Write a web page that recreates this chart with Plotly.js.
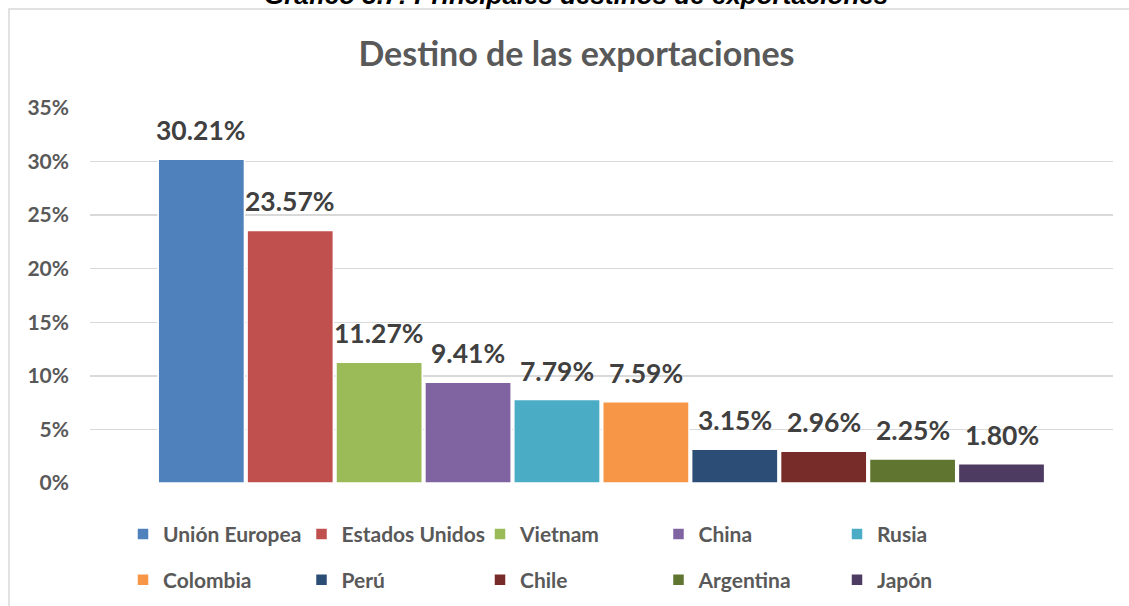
<!DOCTYPE html>
<html>
<head>
<meta charset="utf-8">
<script src="https://cdn.plot.ly/plotly-3.0.1.min.js"></script>
<style>
  html, body { margin: 0; padding: 0; background: #ffffff; overflow: hidden; }
  #chart { width: 1129px; height: 606px; }
</style>
</head>
<body>
<div id="chart"></div>
<script>
// ---- data ----
const countries = ["Unión Europea", "Estados Unidos", "Vietnam", "China", "Rusia",
                   "Colombia", "Perú", "Chile", "Argentina", "Japón"];
const shares = [30.21, 23.57, 11.27, 9.41, 7.79, 7.59, 3.15, 2.96, 2.25, 1.80];
const colors = ["#4F81BD", "#C0504D", "#9BBB59", "#8064A2", "#4BACC6",
                "#F79646", "#2C4D75", "#772C2A", "#5F7530", "#4D3B62"];
const yTicks = [0, 5, 10, 15, 20, 25, 30, 35];
const yTickText = ["0%", "5%", "10%", "15%", "20%", "25%", "30%", "35%"];
const chartTitle = "Destino de las exportaciones";
const pageTitle = "Gráfico 3.7: Principales destinos de exportaciones";

const FONT = "Lato, 'Open Sans', sans-serif";
const traces = countries.map((c, i) => ({
  type: "bar",
  name: c,
  x: [c],
  y: [shares[i]],
  marker: { color: colors[i], line: { color: "#ffffff", width: 1.5 } },
  legend: i < 5 ? "legend" : "legend2",
  hoverinfo: "skip"
}));

const labelAnnotations = countries.map((c, i) => ({
  x: c, y: shares[i], xref: "x", yref: "y",
  text: shares[i].toFixed(2) + "%",
  showarrow: false, yanchor: "bottom", yshift: 11,
  font: { family: FONT, size: 26.5, color: "#404040", weight: 700 }
}));

const legendCommon = {
  orientation: "h",
  xref: "paper", yref: "paper",
  xanchor: "left", yanchor: "middle",
  entrywidth: 133.5, entrywidthmode: "pixels",
  itemwidth: 30,
  font: { family: FONT, size: 21, color: "#595959", weight: 700 },
  bgcolor: "rgba(0,0,0,0)", traceorder: "normal"
};

const layout = {
  width: 1129, height: 606,
  margin: { l: 90, r: 16, t: 108, b: 123, pad: 0, autoexpand: false },
  paper_bgcolor: "#ffffff", plot_bgcolor: "#ffffff",
  barmode: "relative",
  bargap: 0.03,
  showlegend: true,
  title: {
    text: chartTitle,
    xref: "container", yref: "container",
    x: 576.5 / 1129, xanchor: "center",
    y: 1 - 54 / 606, yanchor: "middle",
    font: { family: FONT, size: 34, color: "#595959", weight: 700 }
  },
  xaxis: {
    type: "category",
    categoryorder: "array", categoryarray: countries,
    range: [-1.252, 10.254],
    showticklabels: false, showgrid: false, zeroline: false,
    showline: false, ticks: "", fixedrange: true
  },
  yaxis: {
    range: [0, 35],
    tickvals: yTicks, ticktext: yTickText,
    showgrid: true, gridcolor: "#D9D9D9", gridwidth: 1.5,
    zeroline: false, showline: false, ticks: "",
    ticklabelstandoff: 20,
    tickfont: { family: FONT, size: 21, color: "#595959", weight: 700 },
    fixedrange: true
  },
  legend: Object.assign({}, legendCommon, { x: (123 - 90) / 1023, y: (483 - 534.3) / 375 }),
  legend2: Object.assign({}, legendCommon, { x: (123 - 90) / 1023, y: (483 - 580) / 375 }),
  shapes: [{
    type: "rect", xref: "paper", yref: "paper", layer: "below",
    x0: (9 - 90) / 1023, x1: (1140 - 90) / 1023,
    y0: (483 - 9) / 375, y1: (483 - 615) / 375,
    line: { color: "#D9D9D9", width: 1.5 }, fillcolor: "rgba(0,0,0,0)"
  }],
  annotations: labelAnnotations.concat([{
    xref: "paper", yref: "paper",
    x: (576 - 90) / 1023, xanchor: "center",
    y: (483 - 12) / 375, yanchor: "bottom",
    text: "<b><i>" + pageTitle + "</i></b>",
    showarrow: false,
    font: { family: "Liberation Sans, Arial, sans-serif", size: 26, color: "#000000" }
  }])
};

Plotly.newPlot("chart", traces, layout, { displayModeBar: false, staticPlot: true });
</script>
</body>
</html>
